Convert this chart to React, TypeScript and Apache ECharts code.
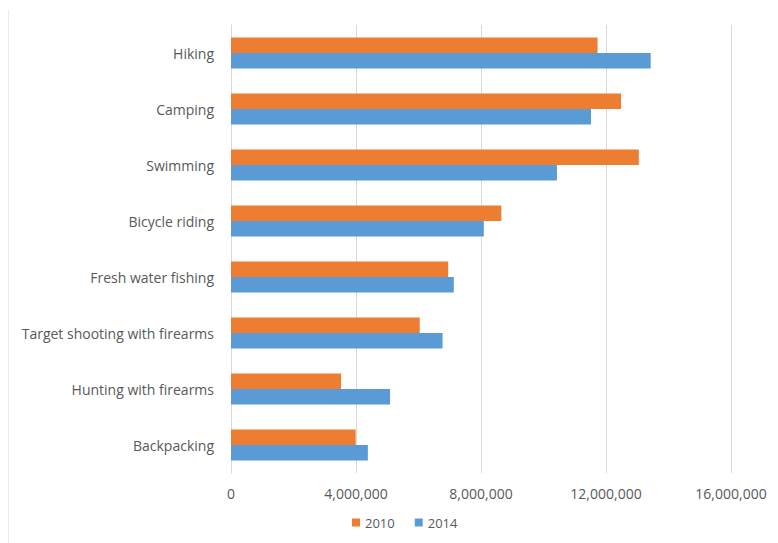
import React, { useEffect, useRef } from "react";
import * as echarts from "echarts";

// Activities, listed top to bottom
const activities = [
  "Hiking",
  "Camping",
  "Swimming",
  "Bicycle riding",
  "Fresh water fishing",
  "Target shooting with firearms",
  "Hunting with firearms",
  "Backpacking",
];

// Participants per activity
const participants2010 = [11730000, 12480000, 13050000, 8650000, 6950000, 6040000, 3520000, 3990000];
const participants2014 = [13430000, 11520000, 10430000, 8090000, 7130000, 6770000, 5090000, 4380000];

const seriesNames = ["2010", "2014"];
const axisTicks = [0, 4000000, 8000000, 12000000, 16000000];

const FONT = "'Open Sans', 'Liberation Sans', sans-serif";
const TEXT = "#595959";

export default function App() {
  const ref = useRef<HTMLDivElement>(null);

  useEffect(() => {
    if (!ref.current) return;
    const chart = echarts.init(ref.current, undefined, { renderer: "svg" });
    const step = axisTicks[1] - axisTicks[0];
    chart.setOption({
      animation: false,
      backgroundColor: "#ffffff",
      textStyle: { fontFamily: FONT, color: TEXT },
      grid: { left: 223, right: 39, top: 17, bottom: 70, containLabel: false },
      legend: {
        data: seriesNames,
        top: 503,
        left: 339,
        icon: "rect",
        itemWidth: 8,
        itemHeight: 8,
        itemGap: 20,
        textStyle: { fontFamily: FONT, color: TEXT, fontSize: 13 },
      },
      xAxis: {
        type: "value",
        min: axisTicks[0],
        max: axisTicks[axisTicks.length - 1],
        interval: step,
        axisLine: { show: false },
        axisTick: { show: false },
        splitLine: { lineStyle: { color: "#D9D9D9", width: 1 } },
        axisLabel: {
          margin: 13,
          fontSize: 14,
          color: TEXT,
          fontFamily: FONT,
          formatter: (v: number) => v.toLocaleString("en-US"),
        },
      },
      yAxis: {
        type: "category",
        data: activities,
        inverse: true,
        axisLine: { show: true, lineStyle: { color: "#D9D9D9", width: 1 } },
        axisTick: { show: false },
        axisLabel: { margin: 17, fontSize: 14, color: TEXT, fontFamily: FONT },
      },
      series: [
        {
          name: seriesNames[0],
          type: "bar",
          data: participants2010,
          itemStyle: { color: "#ED7D31" },
          barGap: "0%",
          barCategoryGap: "45%",
        },
        {
          name: seriesNames[1],
          type: "bar",
          data: participants2014,
          itemStyle: { color: "#5B9BD5" },
          barGap: "0%",
          barCategoryGap: "45%",
        },
      ],
      graphic: [
        {
          type: "line",
          shape: { x1: 0, y1: 2, x2: 0, y2: 540 },
          style: { stroke: "#D9D9D9", lineWidth: 1 },
        },
      ],
    });
    return () => chart.dispose();
  }, []);

  return <div ref={ref} style={{ width: 762, height: 535 }} />;
}
